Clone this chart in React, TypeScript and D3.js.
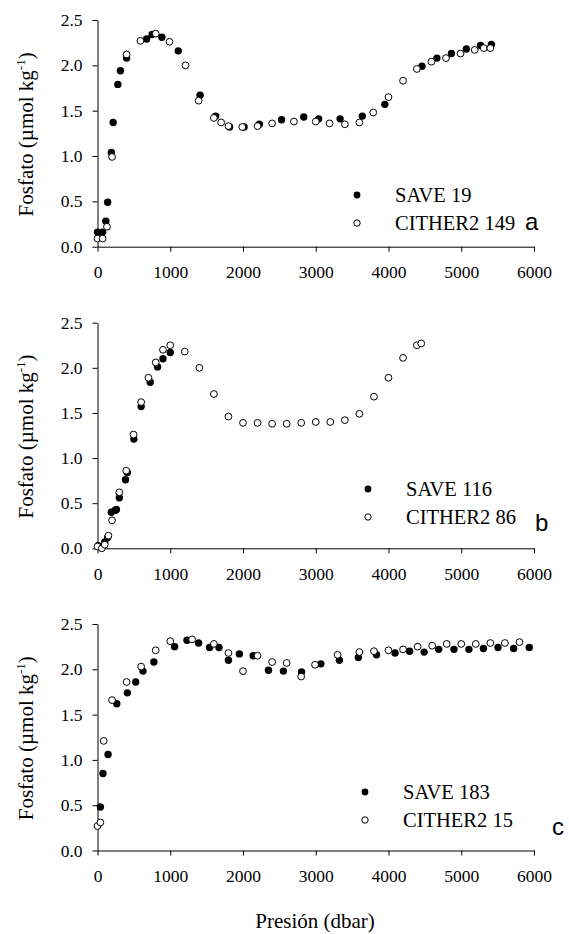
import React, { useEffect, useRef } from "react";
import * as d3 from "d3";

// Panel a
const save19Pres = [0, 70, 115, 140, 190, 215, 280, 315, 400, 675, 750, 885, 1110, 1410, 1625, 1815, 2015, 2225, 2530, 2835, 3040, 3335, 3640, 3950, 4460, 4665, 4865, 5070, 5265, 5415];
const save19Fos = [0.16, 0.16, 0.28, 0.49, 1.04, 1.37, 1.79, 1.94, 2.08, 2.29, 2.34, 2.31, 2.16, 1.67, 1.44, 1.32, 1.32, 1.35, 1.4, 1.43, 1.41, 1.41, 1.44, 1.57, 1.99, 2.08, 2.13, 2.18, 2.22, 2.23];
const cither149Pres = [0, 70, 130, 200, 400, 590, 800, 990, 1210, 1390, 1600, 1700, 1800, 1990, 2200, 2400, 2700, 3000, 3190, 3400, 3600, 3790, 4000, 4200, 4390, 4590, 4790, 4990, 5185, 5310, 5400];
const cither149Fos = [0.09, 0.09, 0.22, 0.99, 2.12, 2.27, 2.35, 2.26, 2.0, 1.61, 1.42, 1.37, 1.33, 1.32, 1.33, 1.36, 1.38, 1.38, 1.36, 1.35, 1.37, 1.48, 1.65, 1.83, 1.96, 2.04, 2.08, 2.13, 2.17, 2.19, 2.19];

// Panel b
const save116Pres = [10, 100, 140, 190, 240, 260, 300, 385, 410, 500, 600, 725, 825, 900, 1000];
const save116Fos = [0.03, 0.07, 0.12, 0.4, 0.42, 0.43, 0.56, 0.76, 0.84, 1.21, 1.57, 1.84, 2.01, 2.1, 2.17];
const cither86Pres = [0, 60, 100, 150, 200, 300, 395, 495, 600, 700, 800, 900, 1000, 1200, 1400, 1600, 1800, 2000, 2200, 2400, 2600, 2800, 3000, 3200, 3400, 3600, 3800, 4000, 4200, 4390, 4450];
const cither86Fos = [0.02, 0.0, 0.04, 0.14, 0.31, 0.62, 0.86, 1.26, 1.62, 1.89, 2.06, 2.2, 2.25, 2.18, 2.0, 1.71, 1.46, 1.39, 1.39, 1.38, 1.38, 1.39, 1.4, 1.4, 1.42, 1.49, 1.68, 1.89, 2.11, 2.25, 2.27];

// Panel c
const save183Pres = [40, 75, 145, 265, 410, 525, 625, 775, 1060, 1230, 1390, 1540, 1670, 1800, 1950, 2140, 2350, 2555, 2805, 3070, 3325, 3585, 3835, 4090, 4290, 4490, 4690, 4900, 5105, 5305, 5505, 5720, 5935];
const save183Fos = [0.48, 0.85, 1.06, 1.62, 1.74, 1.86, 1.98, 2.08, 2.25, 2.32, 2.29, 2.24, 2.24, 2.1, 2.17, 2.15, 1.99, 1.98, 1.97, 2.06, 2.1, 2.13, 2.16, 2.18, 2.2, 2.19, 2.22, 2.22, 2.22, 2.23, 2.24, 2.23, 2.24];
const cither15Pres = [0, 40, 85, 200, 400, 600, 800, 1000, 1300, 1600, 1800, 2000, 2200, 2400, 2600, 2800, 2990, 3300, 3600, 3800, 4000, 4200, 4400, 4600, 4800, 5000, 5200, 5400, 5600, 5800];
const cither15Fos = [0.27, 0.31, 1.21, 1.66, 1.86, 2.03, 2.21, 2.31, 2.33, 2.28, 2.18, 1.98, 2.15, 2.08, 2.07, 1.92, 2.05, 2.16, 2.19, 2.2, 2.21, 2.22, 2.25, 2.26, 2.28, 2.28, 2.28, 2.29, 2.29, 2.3];

const xTicks = [0, 1000, 2000, 3000, 4000, 5000, 6000];
const yTicks = [0, 0.5, 1.0, 1.5, 2.0, 2.5];

const panels = [
  { top: 20, bottom: 246.7, letter: "a", filledName: "SAVE 19", openName: "CITHER2 149",
    filled: [save19Pres, save19Fos], open: [cither149Pres, cither149Fos],
    legX: 357, legY: 195, letterX: 525, letterY: 230 },
  { top: 322.7, bottom: 548.3, letter: "b", filledName: "SAVE 116", openName: "CITHER2 86",
    filled: [save116Pres, save116Fos], open: [cither86Pres, cither86Fos],
    legX: 368, legY: 489, letterX: 535, letterY: 531 },
  { top: 624, bottom: 850.5, letter: "c", filledName: "SAVE 183", openName: "CITHER2 15",
    filled: [save183Pres, save183Fos], open: [cither15Pres, cither15Fos],
    legX: 365, legY: 792, letterX: 552, letterY: 835 },
];

const serif = "Liberation Serif, Tinos, DejaVu Serif, serif";

export default function App() {
  const svgRef = useRef<SVGSVGElement>(null);

  useEffect(() => {
    const svg = d3.select(svgRef.current);
    svg.selectAll("*").remove();

    const x = d3.scaleLinear().domain([0, 6000]).range([97.5, 534]);

    panels.forEach((p) => {
      const y = d3.scaleLinear().domain([0, 2.5]).range([p.bottom, p.top]);
      const g = svg.append("g");

      // x axis
      const xa = g.append("g")
        .attr("transform", `translate(0,${p.bottom})`)
        .call(d3.axisBottom(x).tickValues(xTicks).tickSize(5).tickSizeOuter(0).tickPadding(14).tickFormat(d3.format("d")));
      xa.selectAll("text").style("font-family", serif).style("font-size", "17.5px").attr("fill", "#000");

      // y axis
      const ya = g.append("g")
        .attr("transform", `translate(${x(0)},0)`)
        .call(d3.axisLeft(y).tickValues(yTicks).tickSize(5).tickSizeOuter(0).tickPadding(10).tickFormat(d3.format(".1f")));
      ya.selectAll("text").style("font-family", serif).style("font-size", "17.5px").attr("fill", "#000");
      g.selectAll(".domain, .tick line").attr("stroke", "#000").attr("stroke-width", 1);

      // y title
      const yt = g.append("text")
        .attr("transform", `translate(33,${(p.top + p.bottom) / 2 + 1}) rotate(-90)`)
        .attr("text-anchor", "middle")
        .style("font-family", serif)
        .style("font-size", "21px")
        .attr("fill", "#000");
      yt.append("tspan").text("Fosfato (µmol kg");
      yt.append("tspan").style("font-size", "13px").attr("dy", -8).text("-1");
      yt.append("tspan").attr("dy", 8).text(")");

      const [fp, fv] = p.filled;
      const [op, ov] = p.open;

      g.append("g").selectAll("circle")
        .data(d3.range(fp.length))
        .join("circle")
        .attr("cx", (i) => x(fp[i]))
        .attr("cy", (i) => y(fv[i]))
        .attr("r", 3.7)
        .attr("fill", "#000");

      g.append("g").selectAll("circle")
        .data(d3.range(op.length))
        .join("circle")
        .attr("cx", (i) => x(op[i]))
        .attr("cy", (i) => y(ov[i]))
        .attr("r", 3.4)
        .attr("fill", "#fff")
        .attr("stroke", "#000")
        .attr("stroke-width", 1);

      // legend
      g.append("circle").attr("cx", p.legX).attr("cy", p.legY).attr("r", 3.4).attr("fill", "#000");
      g.append("circle").attr("cx", p.legX).attr("cy", p.legY + 28).attr("r", 3.2)
        .attr("fill", "#fff").attr("stroke", "#000").attr("stroke-width", 1);
      g.append("text").attr("x", p.legX + 38).attr("y", p.legY + 7)
        .style("font-family", serif).style("font-size", "20.5px").attr("fill", "#000").text(p.filledName);
      g.append("text").attr("x", p.legX + 38).attr("y", p.legY + 35)
        .style("font-family", serif).style("font-size", "20.5px").attr("fill", "#000").text(p.openName);

      g.append("text").attr("x", p.letterX).attr("y", p.letterY)
        .style("font-family", "Liberation Sans, Arial, sans-serif").style("font-size", "24px")
        .attr("fill", "#000").text(p.letter);
    });

    svg.append("text")
      .attr("x", 315).attr("y", 928)
      .attr("text-anchor", "middle")
      .style("font-family", serif)
      .style("font-size", "21px")
      .attr("fill", "#000")
      .text("Presión (dbar)");
  }, []);

  return (
    <svg ref={svgRef} width={569} height={934}
      style={{ position: "absolute", left: 0, top: 0, background: "#fff" }} />
  );
}
